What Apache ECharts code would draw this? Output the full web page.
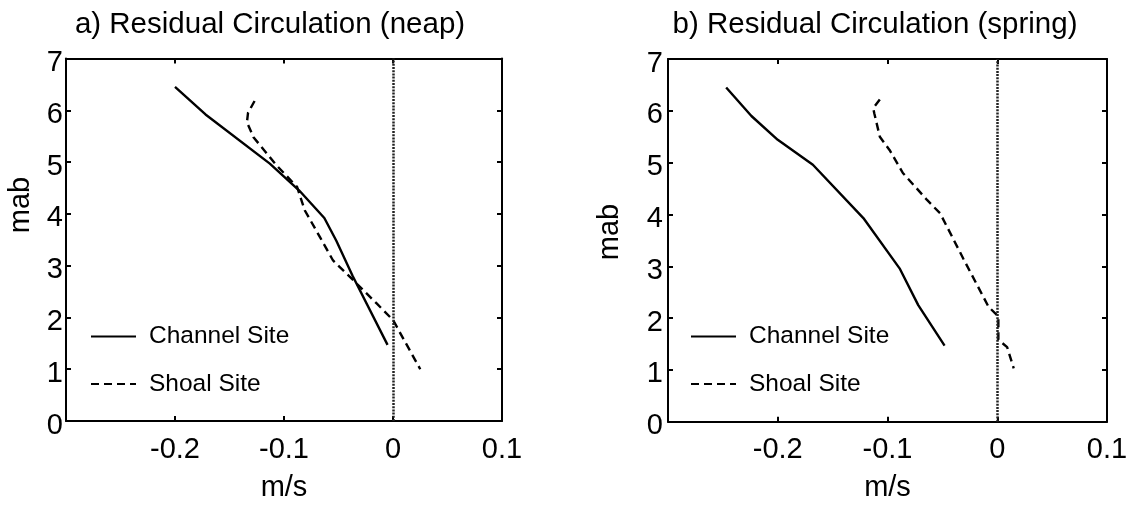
<!DOCTYPE html>
<html>
<head>
<meta charset="utf-8">
<script src="https://cdn.jsdelivr.net/npm/echarts@6/dist/echarts.min.js"></script>
<style>
  html, body { margin: 0; padding: 0; background: #ffffff; }
  #chart { width: 1135px; height: 511px; }
</style>
</head>
<body>
<div id="chart"></div>
<script>
// Residual velocity profiles: velocity (m/s) against height above bed (mab)
const panelTitles = ['a) Residual Circulation (neap)', 'b) Residual Circulation (spring)'];
const seriesNames = ['Channel Site', 'Shoal Site'];
const xAxisTitle = 'm/s';
const yAxisTitle = 'mab';
const xTickLabels = [-0.2, -0.1, 0, 0.1];
const yTickLabels = [0, 1, 2, 3, 4, 5, 6, 7];

// Neap tide profiles
const neapChannelU = [-0.200, -0.172, -0.113, -0.086, -0.063, -0.052, -0.037, -0.005];
const neapChannelZ = [6.45, 5.92, 4.97, 4.45, 3.92, 3.48, 2.80, 1.47];
const neapShoalU = [-0.127, -0.133, -0.134, -0.128, -0.107, -0.088, -0.081, -0.067, -0.055, -0.036, -0.015, 0.000, 0.025];
const neapShoalZ = [6.18, 5.95, 5.77, 5.48, 4.94, 4.52, 4.07, 3.55, 3.10, 2.71, 2.27, 1.95, 1.00];

// Spring tide profiles
const springChannelU = [-0.247, -0.224, -0.200, -0.168, -0.122, -0.089, -0.072, -0.048];
const springChannelZ = [6.45, 5.90, 5.44, 4.96, 3.93, 2.96, 2.25, 1.47];
const springShoalU = [-0.107, -0.113, -0.112, -0.107, -0.098, -0.086, -0.064, -0.052, -0.031, -0.008, 0.001, 0.001, 0.009, 0.015];
const springShoalZ = [6.22, 6.05, 5.95, 5.50, 5.24, 4.80, 4.28, 4.02, 3.15, 2.22, 2.03, 1.58, 1.44, 1.03];

const FONT = 'Liberation Sans, Arial, sans-serif';
const pair = (u, z) => u.map((v, i) => [v, z[i]]);

const grids = [
  { left: 66, top: 58.5, width: 436, height: 362.5 },
  { left: 668, top: 59, width: 439, height: 362.7 }
];

function xAxisFor(gridIndex, position) {
  const bottom = position === 'bottom';
  return {
    type: 'value', gridIndex, position, min: -0.3, max: 0.1, interval: 0.1,
    axisLine: { show: true, onZero: false, lineStyle: { color: '#000', width: 2 } },
    axisTick: { show: true, inside: true, length: 5, lineStyle: { color: '#000', width: 2 } },
    splitLine: { show: false },
    axisLabel: {
      show: bottom, margin: 14, color: '#000', fontSize: 29, fontFamily: FONT,
      formatter: v => xTickLabels.some(t => Math.abs(t - v) < 1e-9) ? String(Math.round(v * 10) / 10) : ''
    },
    name: bottom ? xAxisTitle : '', nameLocation: 'middle', nameGap: 52,
    nameTextStyle: { color: '#000', fontSize: 29, fontFamily: FONT }
  };
}

function yAxisFor(gridIndex, position) {
  const left = position === 'left';
  return {
    type: 'value', gridIndex, position, min: 0, max: 7, interval: 1,
    axisLine: { show: true, onZero: false, lineStyle: { color: '#000', width: 2 } },
    axisTick: { show: true, inside: true, length: 5, lineStyle: { color: '#000', width: 2 } },
    splitLine: { show: false },
    axisLabel: {
      show: left, margin: gridIndex === 0 ? 3 : 5, color: '#000', fontSize: 29, fontFamily: FONT,
      verticalAlign: 'top', lineHeight: 9,
      formatter: v => yTickLabels.includes(Math.round(v)) ? String(Math.round(v)) : ''
    }
  };
}

function profile(name, u, z, xi, yi, dashed, withZero) {
  const s = {
    name, type: 'line', xAxisIndex: xi, yAxisIndex: yi,
    data: pair(u, z), symbol: 'none', showSymbol: false,
    lineStyle: { color: '#000', width: 2.4, type: dashed ? [8, 5] : 'solid' },
    itemStyle: { color: '#000' },
    z: 3
  };
  if (withZero) {
    s.markLine = {
      silent: true, symbol: 'none', label: { show: false },
      lineStyle: { color: '#222', width: 2.5, type: [2, 1.2] },
      data: [{ xAxis: 0 }]
    };
  }
  return s;
}

function legendAt(left) {
  return {
    orient: 'vertical', left, top: 319, itemWidth: 45, itemHeight: 14, itemGap: 22.5,
    data: seriesNames, selectedMode: false,
    itemStyle: { opacity: 0 },
    textStyle: { color: '#000', fontSize: 24.5, fontFamily: FONT, lineHeight: 24, padding: [0, 0, 0, 8] }
  };
}

const chart = echarts.init(document.getElementById('chart'), null, { renderer: 'canvas' });
chart.setOption({
  backgroundColor: '#ffffff',
  animation: false,
  grid: grids,
  xAxis: [xAxisFor(0, 'bottom'), xAxisFor(0, 'top'), xAxisFor(1, 'bottom'), xAxisFor(1, 'top')],
  yAxis: [yAxisFor(0, 'left'), yAxisFor(0, 'right'), yAxisFor(1, 'left'), yAxisFor(1, 'right')],
  legend: [legendAt(85), legendAt(685)],
  graphic: [
    { type: 'text', x: 270, y: 25, style: { text: panelTitles[0], font: '29.5px ' + FONT, fill: '#000', textAlign: 'center', textVerticalAlign: 'middle' } },
    { type: 'text', x: 875, y: 25, style: { text: panelTitles[1], font: '29.5px ' + FONT, fill: '#000', textAlign: 'center', textVerticalAlign: 'middle' } },
    { type: 'text', x: 21, y: 205, rotation: Math.PI / 2, style: { text: yAxisTitle, font: '29px ' + FONT, fill: '#000', textAlign: 'center', textVerticalAlign: 'middle' } },
    { type: 'text', x: 610, y: 232, rotation: Math.PI / 2, style: { text: yAxisTitle, font: '29px ' + FONT, fill: '#000', textAlign: 'center', textVerticalAlign: 'middle' } }
  ],
  series: [
    profile(seriesNames[0], neapChannelU, neapChannelZ, 0, 0, false, true),
    profile(seriesNames[1], neapShoalU, neapShoalZ, 0, 0, true, false),
    profile(seriesNames[0], springChannelU, springChannelZ, 2, 2, false, true),
    profile(seriesNames[1], springShoalU, springShoalZ, 2, 2, true, false)
  ]
});
</script>
</body>
</html>
